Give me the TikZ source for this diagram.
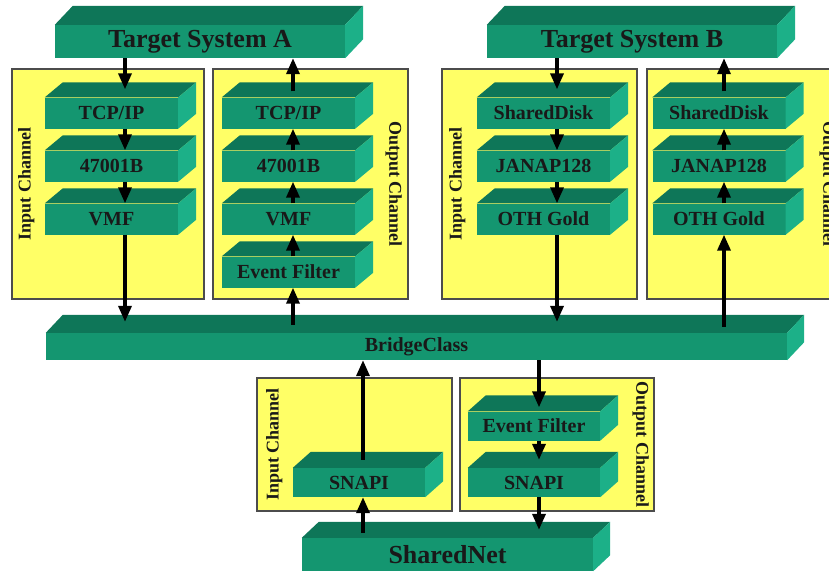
\documentclass[tikz,border=0pt]{standalone}
\usepackage{fontspec}
\setmainfont{Liberation Serif}
\usepackage{tikz}
\usetikzlibrary{calc}
\usetikzlibrary{arrows.meta}

\definecolor{slabfront}{RGB}{20,150,112}
\definecolor{slabtop}{RGB}{14,118,88}
\definecolor{slabside}{RGB}{28,176,136}
\definecolor{chanyellow}{RGB}{255,255,102}

\tikzset{
  slab/.style={fill=slabfront, inner sep=0pt, minimum width=133pt, minimum height=31pt,
    text=black!90, font=\bfseries\fontsize{20}{24}\selectfont},
  bigslab/.style={slab, minimum height=33pt, font=\bfseries\fontsize{26}{30}\selectfont},
  slabtop/.style={fill=slabtop},
  slabside/.style={fill=slabside},
  channel/.style={fill=chanyellow, draw=black!70, line width=1.2pt, inner sep=0pt},
  chanlabel/.style={inner sep=0pt, text=black!90, font=\bfseries\fontsize{18}{20}\selectfont},
  flow/.style={line width=3.5pt, -{Triangle[length=16pt,width=13pt]}}
}

\begin{document}
\begin{tikzpicture}[x=1pt,y=-1pt]
  \clip (0,0) rectangle (829,574);

  %channel panels
  \node[channel, minimum width=192pt, minimum height=230pt] (pAin) at (108,184) {};
  \node[channel, minimum width=195pt, minimum height=230pt] (pAout) at (310.5,184) {};
  \node[channel, minimum width=195pt, minimum height=230pt] (pBin) at (539.5,184) {};
  \node[channel, minimum width=195pt, minimum height=230pt] (pBout) at (744.5,184) {};
  \node[channel, minimum width=195pt, minimum height=133pt] (pCin) at (354.5,444.5) {};
  \node[channel, minimum width=194pt, minimum height=133pt] (pCout) at (557,444.5) {};

  %channel names
  \node[chanlabel, rotate=90] (lAin) at ([xshift=15pt]pAin.west) {Input Channel};
  \node[chanlabel, rotate=-90] (lAout) at ([xshift=-15pt]pAout.east) {Output Channel};
  \node[chanlabel, rotate=90] (lBin) at ([xshift=16pt]pBin.west) {Input Channel};
  \node[chanlabel, rotate=-90] (lBout) at ([xshift=-15pt]pBout.east) {Output Channel};
  \node[chanlabel, rotate=90] (lCin) at ([xshift=18pt]pCin.west) {Input Channel};
  \node[chanlabel, rotate=-90] (lCout) at ([xshift=-14pt]pCout.east) {Output Channel};

  %systems and bridge
  \node[bigslab, minimum width=290pt] (tsA) at (200,41.5) {Target System A};
  \node[bigslab, minimum width=290pt] (tsB) at (632,41.5) {Target System B};
  \node[slab, minimum width=741pt, minimum height=27pt] (bridge) at (416.5,346.5) {BridgeClass};
  \node[bigslab, minimum width=291pt] (snet) at (447.5,554.5) {SharedNet};

  %channel layers
  \def\dd{53}
  \foreach \i/\txt/\name in {0/{TCP/IP}/ain0,1/47001B/ain1,2/VMF/ain2}
    \node[slab] (\name) at (111.5,113+\i*\dd) {\txt};
  \foreach \i/\txt/\name in {0/{TCP/IP}/aout0,1/47001B/aout1,2/VMF/aout2,3/Event Filter/aout3}
    \node[slab] (\name) at (288.5,113+\i*\dd) {\txt};
  \foreach \i/\txt/\name in {0/SharedDisk/bin0,1/JANAP128/bin1,2/OTH Gold/bin2}
    \node[slab] (\name) at (543.5,113+\i*\dd) {\txt};
  \foreach \i/\txt/\name in {0/SharedDisk/bout0,1/JANAP128/bout1,2/OTH Gold/bout2}
    \node[slab] (\name) at (719,113+\i*\dd) {\txt};
  \foreach \x/\y/\txt/\name in {534/426/Event Filter/cevf,534/482.5/SNAPI/csnout,359/482.5/SNAPI/csnin}
    \node[slab, minimum width=132pt, minimum height=29pt] (\name) at (\x,\y) {\txt};

  %top and side faces
  \foreach \n/\ex/\ey in {tsA/18/19,tsB/18/19,bridge/17/18,snet/17/16,
      ain0/18/15,ain1/18/15,ain2/18/15,aout0/18/15,aout1/18/15,aout2/18/15,aout3/18/15,
      bin0/18/15,bin1/18/15,bin2/18/15,bout0/18/15,bout1/18/15,bout2/18/15,
      cevf/18/16,csnout/18/16,csnin/18/16}{
    \fill[slabtop] (\n.north west) -- ++(\ex,-\ey) -- ($(\n.north east)+(\ex,-\ey)$) -- (\n.north east) -- cycle;
    \fill[slabside] (\n.north east) -- ++(\ex,-\ey) -- ($(\n.south east)+(\ex,-\ey)$) -- (\n.south east) -- cycle;
  }

  %flow columns
  \coordinate (xAin) at (125,0);
  \coordinate (xAout) at (293,0);
  \coordinate (xBin) at (557,0);
  \coordinate (xBout) at (724,0);
  \coordinate (xCin) at (363,0);
  \coordinate (xCout) at (539,0);

  %system A
  \draw[flow] (xAin |- tsA.south) -- ($(xAin |- ain0.north)+(0,-8)$);
  \foreach \a/\b in {ain0/ain1,ain1/ain2}
    \draw[flow] (xAin |- \a.south) -- (xAin |- \b.north);
  \draw[flow] (xAin |- ain2.south) -- ($(xAin |- bridge.north)+(0,-11)$);
  \draw[flow] ($(xAout |- bridge.north)+(0,-8)$) -- (xAout |- aout3.south);
  \foreach \a/\b in {aout3/aout2,aout2/aout1,aout1/aout0}
    \draw[flow] (xAout |- \a.north) -- (xAout |- \b.south);
  \draw[flow] ($(xAout |- aout0.north)+(0,-6)$) -- (xAout |- tsA.south);

  %system B
  \draw[flow] (xBin |- tsB.south) -- ($(xBin |- bin0.north)+(0,-8)$);
  \foreach \a/\b in {bin0/bin1,bin1/bin2}
    \draw[flow] (xBin |- \a.south) -- (xBin |- \b.north);
  \draw[flow] (xBin |- bin2.south) -- ($(xBin |- bridge.north)+(0,-11)$);
  \draw[flow] ($(xBout |- bridge.north)+(0,-6)$) -- (xBout |- bout2.south);
  \foreach \a/\b in {bout2/bout1,bout1/bout0}
    \draw[flow] (xBout |- \a.north) -- (xBout |- \b.south);
  \draw[flow] ($(xBout |- bout0.north)+(0,-6)$) -- (xBout |- tsB.south);

  %shared net
  \draw[flow] (xCout |- bridge.south) -- ($(xCout |- cevf.north)+(0,-4)$);
  \draw[flow] (xCout |- cevf.south) -- ($(xCout |- csnout.north)+(0,-8)$);
  \draw[flow] (xCout |- csnout.south) -- ($(xCout |- snet.north)+(0,-8)$);
  \draw[flow] ($(xCin |- snet.north)+(0,-5)$) -- (xCin |- csnin.south);
  \draw[flow] ($(xCin |- csnin.north)+(0,-8)$) -- (xCin |- bridge.south);

\end{tikzpicture}
\end{document}
